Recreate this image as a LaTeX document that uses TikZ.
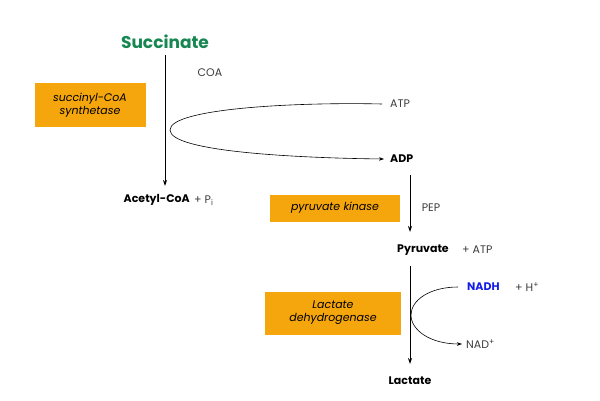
\documentclass[tikz,border=0pt]{standalone}
\usepackage{fontspec}
\setmainfont{Poppins}
\usetikzlibrary{arrows.meta}
\definecolor{sgreen}{RGB}{22,135,80}
\definecolor{bor}{RGB}{245,166,12}
\definecolor{gr}{RGB}{60,60,60}
\definecolor{nblue}{RGB}{20,30,230}
\begin{document}
\begin{tikzpicture}[x=1pt,y=-1pt,
  lbl/.style={font=\fontsize{11}{13}\selectfont\color{gr}, inner sep=0pt},
  bl/.style={font=\fontsize{11}{13}\selectfont\bfseries, inner sep=0pt},
  enz/.style={fill=bor, font=\fontsize{11}{13}\selectfont\itshape, align=center, inner sep=0pt},
  arr/.style={-{Stealth[length=6pt,width=4pt]}, line width=1pt},
  thin/.style={-{Stealth[length=5pt,width=3.5pt]}, line width=0.6pt}]
\useasboundingbox (0,0) rectangle (600,400);
\node[font=\fontsize{17}{20}\selectfont\bfseries, text=sgreen, inner sep=0pt] (succ) at (165,42) {Succinate};
\node[bl, anchor=east] (acet) at (190,200) {Acetyl-CoA};
\node[lbl, anchor=west] (pi) at (194,201) {+ P\textsubscript{i}};
\node[lbl] (coa) at (210,73) {COA};
\node[enz, minimum width=111pt, minimum height=44pt] (e1) at (90,105) {succinyl-CoA\\synthetase};
\coordinate (s1) at (165,55);
\coordinate (s2) at (165,186);
\draw[arr] (s1) -- (s2);
\node[lbl, anchor=west] (atp) at (390,104) {ATP};
\node[bl, anchor=west] (adp) at (390,159) {ADP};
\draw[thin] (atp.west) ++(-8,0) coordinate (a0) .. controls (300,102) and (170,108) .. (170,130) .. controls (170,152) and (300,158) .. ([xshift=-6pt]adp.west);
\node[enz, minimum width=130pt, minimum height=27pt] (e2) at (335,208) {pyruvate kinase};
\node[lbl] (pep) at (431,208) {PEP};
\node[bl] (pyr) at (423,250) {Pyruvate};
\node[lbl, anchor=west] (atp2) at (462,250) {+ ATP};
\coordinate (p1) at (410,175);
\coordinate (p2) at (410,232);
\draw[arr] (p1) -- (p2);
\node[enz, minimum width=136pt, minimum height=43pt] (e3) at (333,313) {Lactate\\dehydrogenase};
\node[bl] (lac) at (410,381) {Lactate};
\coordinate (l1) at (410,266);
\coordinate (l2) at (410,364);
\draw[arr] (l1) -- (l2);
\node[bl, text=nblue, anchor=west] (nadh) at (467,287) {NADH};
\node[lbl, anchor=west] (hp) at (515,287) {+ H\textsuperscript{+}};
\node[lbl, anchor=west] (nad) at (466,344) {NAD\textsuperscript{+}};
\draw[thin] ([xshift=-9pt]nadh.west) .. controls (430,287) and (411,300) .. (411,315) .. controls (411,330) and (430,344) .. ([xshift=-4pt]nad.west);
\end{tikzpicture}
\end{document}
